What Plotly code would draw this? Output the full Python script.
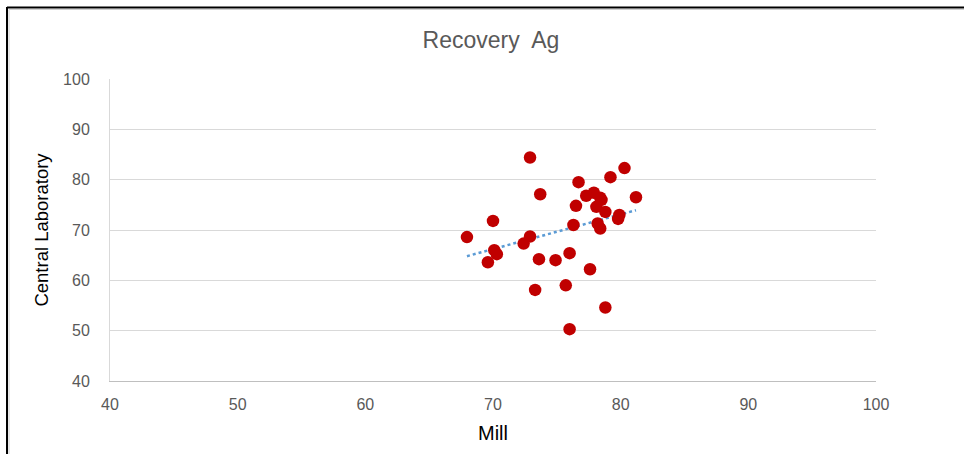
import numpy as np
import plotly.graph_objects as go

# Data
mill = [67.96, 69.6, 70.0, 70.1, 70.3, 72.4, 72.9, 72.9, 73.3, 73.6, 73.7, 74.9, 75.7,
        76.0, 76.0, 76.3, 76.5, 76.7, 77.3, 77.6, 77.9, 78.1, 78.4, 78.5, 78.2, 78.4,
        78.8, 78.8, 79.2, 79.8, 79.9, 80.3, 81.2]
lab = [68.6, 63.6, 71.8, 66.0, 65.2, 67.3, 84.4, 68.7, 58.1, 64.2, 77.1, 64.0, 59.0,
       50.3, 65.4, 71.0, 74.8, 79.5, 76.8, 62.2, 77.4, 74.6, 76.4, 76.0, 71.3, 70.3,
       73.6, 54.6, 80.5, 72.2, 73.0, 82.3, 76.5]
x_ticks = [40, 50, 60, 70, 80, 90, 100]
y_ticks = [40, 50, 60, 70, 80, 90, 100]

# Linear trendline
slope, intercept = np.polyfit(mill, lab, 1)
tx = np.array([min(mill), max(mill)])
ty = slope * tx + intercept

FONT = "Liberation Sans, Arial, sans-serif"

fig = go.Figure()
fig.add_trace(go.Scatter(x=tx, y=ty, mode="lines",
                         line=dict(color="#5B9BD5", width=2.5, dash="dot"),
                         hoverinfo="skip", showlegend=False))
fig.add_trace(go.Scatter(x=mill, y=lab, mode="markers",
                         marker=dict(color="#C00000", size=12.5, line=dict(width=0)),
                         showlegend=False))

L, R, T, B = 110, 88, 79, 73
W, H = 964, 454
pw, ph = W - L - R, H - T - B

def px(x):
    return (x - L) / pw

def py(y):
    return (H - B - y) / ph

shapes = [
    dict(type="line", xref="paper", yref="paper", x0=px(7), x1=px(1000), y0=py(7.5), y1=py(7.5),
         line=dict(color="black", width=2)),
    dict(type="line", xref="paper", yref="paper", x0=px(7), x1=px(7), y0=py(7), y1=py(500),
         line=dict(color="black", width=2)),
    dict(type="line", xref="paper", yref="paper", x0=px(9), x1=px(1000), y0=py(9.5), y1=py(9.5),
         line=dict(color="#D0D0D0", width=1)),
    dict(type="line", xref="paper", yref="paper", x0=px(9), x1=px(9), y0=py(9.5), y1=py(500),
         line=dict(color="#D0D0D0", width=1)),
]

fig.update_layout(
    width=W, height=H,
    margin=dict(l=L, r=R, t=T, b=B),
    paper_bgcolor="white", plot_bgcolor="white",
    title=dict(text="Recovery  Ag", x=px(491), xref="paper", xanchor="center", y=1 - 40 / H, yanchor="middle",
               font=dict(family=FONT, size=23, color="#595959")),
    xaxis=dict(range=[40, 100], tickvals=x_ticks, showgrid=False, zeroline=False,
               showline=True, linecolor="#BFBFBF", linewidth=1,
               ticks="outside", ticklen=9, tickcolor="rgba(0,0,0,0)",
               tickfont=dict(family=FONT, size=16, color="#595959"),
               title=dict(text="Mill", font=dict(family=FONT, size=20, color="black"), standoff=13)),
    yaxis=dict(range=[40, 100], tickvals=y_ticks, showgrid=True, gridcolor="#D9D9D9", gridwidth=1,
               zeroline=False, showline=True, linecolor="#D9D9D9", linewidth=1,
               ticks="outside", ticklen=16, tickcolor="rgba(0,0,0,0)",
               tickfont=dict(family=FONT, size=16, color="#595959"),
               title=dict(text="Central Laboratory", font=dict(family=FONT, size=18.5, color="black"), standoff=9)),
    shapes=shapes,
    hovermode="closest",
)

fig.write_html("out.html", config={"displayModeBar": False},
               post_script="document.body.style.margin='0';document.body.style.padding='0';")
